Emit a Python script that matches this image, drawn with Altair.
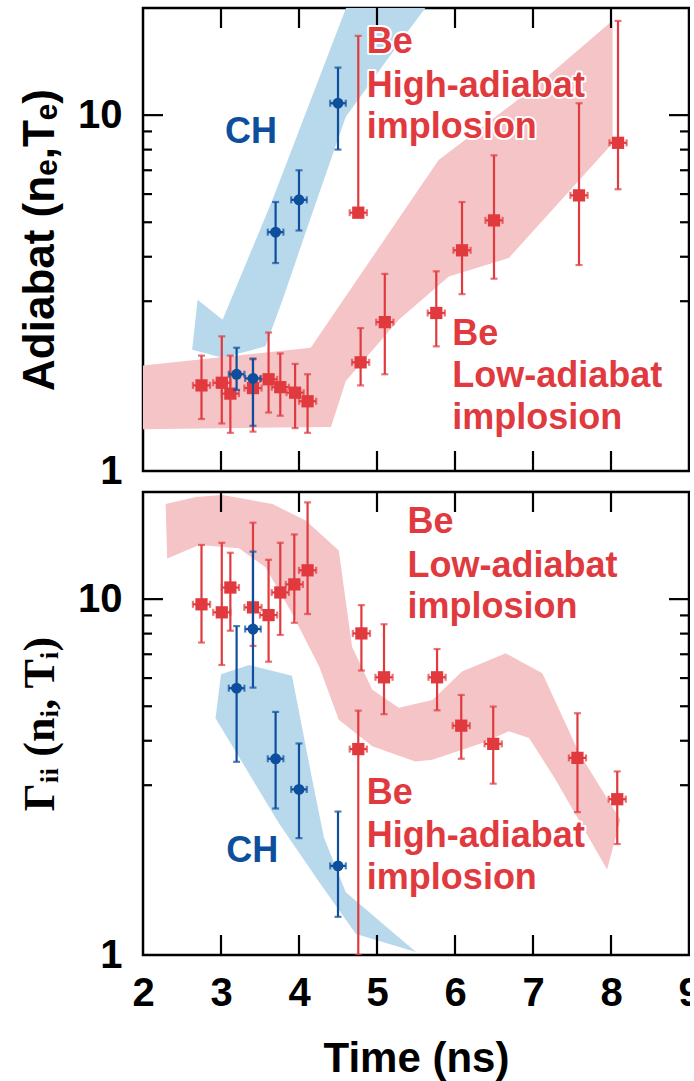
import altair as alt
import pandas as pd

RED = "#e03a3f"
BLUE = "#0d4f9c"
PINK = "#f5c4c6"
LIGHTBLUE = "#b8d8ec"
FONT = "Liberation Sans"

W, H = 546, 463

# ---------------- top panel: adiabat ----------------
top_red_t = [2.75, 3.01, 3.12, 3.41, 3.61, 3.76, 3.95, 4.11, 4.76, 4.79, 5.10, 5.76, 6.09, 6.50, 7.59, 8.09]
top_red_v = [1.74, 1.77, 1.65, 1.71, 1.81, 1.72, 1.66, 1.57, 5.32, 2.02, 2.62, 2.78, 4.17, 5.06, 5.95, 8.36]
top_red_lo = [1.40, 1.36, 1.28, 1.29, 1.46, 1.43, 1.32, 1.28, 5.17, 1.74, 1.87, 2.24, 3.14, 3.47, 3.79, 6.19]
top_red_hi = [2.11, 2.39, 2.11, 2.06, 2.45, 2.14, 2.00, 1.87, 16.7, 2.52, 3.58, 3.64, 5.70, 7.71, 10.8, 18.4]

top_blue_t = [3.20, 3.41, 3.70, 4.00, 4.50]
top_blue_v = [1.87, 1.82, 4.69, 5.78, 10.8]
top_blue_lo = [1.69, 1.34, 3.84, 4.74, 8.0]
top_blue_hi = [2.22, 2.07, 5.70, 7.00, 13.6]

top_blueband_t = [4.64, 3.66, 3.02, 2.70, 2.63, 3.02, 3.57, 3.79, 4.17, 4.60, 5.37, 5.62, 5.62]
top_blueband_v = [21.0, 5.78, 2.66, 3.03, 2.19, 2.08, 2.24, 3.03, 5.30, 9.89, 16.9, 20.0, 21.0]

top_pinkband_t = [1.90, 4.15, 5.79, 7.08, 8.02, 8.02, 6.69, 5.92, 5.28, 4.60, 4.41, 1.90]
top_pinkband_v = [1.97, 2.22, 7.48, 12.27, 18.46, 8.33, 3.97, 3.52, 2.66, 1.79, 1.33, 1.31]

# ---------------- bottom panel: coupling ----------------
bot_red_t = [2.75, 3.01, 3.12, 3.41, 3.61, 3.76, 3.94, 4.11, 4.76, 4.80, 5.09, 5.77, 6.08, 6.49, 7.57, 8.08]
bot_red_v = [9.67, 9.18, 10.78, 9.48, 9.02, 10.44, 11.0, 12.05, 3.79, 8.01, 6.03, 6.03, 4.41, 3.92, 3.58, 2.74]
bot_red_lo = [7.55, 6.53, 8.15, 7.39, 6.67, 7.93, 8.58, 9.08, 1.0, 6.30, 4.75, 4.87, 3.56, 3.03, 2.52, 2.05]
bot_red_hi = [14.2, 14.4, 13.5, 16.4, 12.9, 14.4, 15.2, 18.7, 4.86, 9.62, 8.50, 7.24, 5.38, 4.99, 4.78, 3.28]

bot_blue_t = [3.20, 3.41, 3.70, 4.00, 4.50]
bot_blue_v = [5.62, 8.24, 3.56, 2.92, 1.78]
bot_blue_lo = [3.49, 5.64, 2.58, 2.13, 1.28]
bot_blue_hi = [8.40, 13.6, 4.82, 3.93, 2.53]

bot_blueband_t = [2.93, 3.00, 3.36, 3.91, 4.17, 4.32, 4.60, 5.50, 4.73, 4.26, 3.74]
bot_blueband_v = [4.63, 6.15, 6.53, 6.09, 3.11, 2.14, 1.50, 1.02, 1.145, 1.60, 2.35]

bot_pinkband_t = [2.29, 2.68, 3.02, 3.66, 4.09, 4.51, 4.68, 4.94, 5.28, 5.71, 6.09, 6.65, 7.12, 7.59, 8.12,
                  7.95, 7.29, 6.95, 6.69, 6.35, 5.71, 5.49, 4.94, 4.51, 4.26, 3.91, 3.57, 3.23, 2.72, 2.31]
bot_pinkband_v = [18.5, 19.35, 19.6, 18.5, 16.6, 13.7, 7.35, 5.56, 4.95, 5.21, 6.26, 7.04, 6.19, 3.70, 2.40,
                  1.74, 3.11, 4.07, 4.25, 3.94, 3.54, 3.50, 3.86, 4.58, 6.46, 9.12, 12.3, 13.9, 14.2, 13.0]

# ---------------- annotations ----------------
top_text = ["CH", "Be", "High-adiabat", "implosion", "Be", "Low-adiabat", "implosion"]
top_text_t = [3.385, 4.87, 4.87, 4.87, 5.965, 5.965, 5.965]
top_text_v = [8.35, 14.92, 11.23, 8.62, 2.265, 1.717, 1.309]
top_text_c = [BLUE, RED, RED, RED, RED, RED, RED]
top_text_a = ["center", "left", "left", "left", "left", "left", "left"]

bot_text = ["CH", "Be", "Low-adiabat", "implosion", "Be", "High-adiabat", "implosion"]
bot_text_t = [3.40, 5.39, 5.39, 5.39, 4.87, 4.87, 4.87]
bot_text_v = [1.83, 15.3, 11.52, 8.85, 2.65, 2.007, 1.53]
bot_text_c = [BLUE, RED, RED, RED, RED, RED, RED]
bot_text_a = ["center", "left", "left", "left", "left", "left", "left"]

x_tick_vals = [3, 4, 5, 6, 7, 8]
x_label_vals = [2, 3, 4, 5, 6, 7, 8, 9]
y_label_vals = [1, 10]
y_major = [10]
y_minor = [3, 4, 5, 6, 7, 8, 9]

xs = alt.Scale(domain=[2, 9], nice=False, zero=False)
ys = alt.Scale(type="log", domain=[1, 20], nice=False)


def make_yaxis(title, tfont, tsize):
    return alt.Axis(values=y_label_vals, format="d", title=title, ticks=False, tickSize=0, domain=False,
                    grid=False, labelFont=FONT, labelFontSize=40, labelFontWeight="bold", labelColor="black",
                    labelPadding=21, labelOverlap=False,
                    titleFont=tfont, titleFontSize=tsize, titleFontWeight="bold", titleColor="black",
                    titleX=-90, titleY=H / 2, titleBaseline="alphabetic", titleAlign="center", titleAngle=270)


xaxis_bottom = alt.Axis(values=x_label_vals, format="d", title="Time (ns)", ticks=False, tickSize=0,
                        domain=False, grid=False, labelFont=FONT, labelFontSize=40, labelFontWeight="bold",
                        labelColor="black", labelPadding=18, labelFlush=False, labelOverlap=False,
                        titleFont=FONT, titleFontSize=42, titleFontWeight="bold", titleColor="black",
                        titleY=116, titleBaseline="alphabetic")


def build_panel(xax, yax, blueband, pinkband, red, blue, texts):
    def X(f):
        return alt.X(f, scale=xs, axis=xax)

    def Y(f):
        return alt.Y(f, scale=ys, axis=yax)

    layers = []

    def band(ts, vs, color):
        df = pd.DataFrame({"t": ts, "v": vs, "i": list(range(len(ts)))})
        return alt.Chart(df).mark_line(fill=color, stroke=color, strokeWidth=0, clip=True).encode(
            x=X("t:Q"), y=Y("v:Q"), order=alt.Order("i:Q"))

    layers.append(band(*blueband, LIGHTBLUE))
    layers.append(band(*pinkband, PINK))

    # inward frame ticks
    xdf = pd.DataFrame({"t": x_tick_vals})
    ymaj = pd.DataFrame({"v": y_major})
    ymin = pd.DataFrame({"v": y_minor})
    rk = dict(color="black", strokeWidth=2.2)
    layers += [
        alt.Chart(xdf).mark_rule(**rk).encode(x=X("t:Q"), y=alt.value(0), y2=alt.value(20)),
        alt.Chart(xdf).mark_rule(**rk).encode(x=X("t:Q"), y=alt.value(H - 20), y2=alt.value(H)),
        alt.Chart(ymaj).mark_rule(**rk).encode(y=Y("v:Q"), x=alt.value(0), x2=alt.value(20)),
        alt.Chart(ymaj).mark_rule(**rk).encode(y=Y("v:Q"), x=alt.value(W - 20), x2=alt.value(W)),
        alt.Chart(ymin).mark_rule(**rk).encode(y=Y("v:Q"), x=alt.value(0), x2=alt.value(9)),
        alt.Chart(ymin).mark_rule(**rk).encode(y=Y("v:Q"), x=alt.value(W - 9), x2=alt.value(W)),
    ]

    def series(ts, vs, lo, hi, color, shape, dx, size):
        df = pd.DataFrame({"t": ts, "v": vs, "lo": lo, "hi": hi})
        df["tl"] = df["t"] - dx
        df["tr"] = df["t"] + dx
        base = alt.Chart(df)
        tk = dict(color=color, size=7, thickness=2.2)
        out = [
            base.mark_rule(color=color, strokeWidth=2.2, clip=True).encode(x=X("t:Q"), y=Y("lo:Q"), y2="hi:Q"),
            base.mark_rule(color=color, strokeWidth=2.2).encode(x=X("tl:Q"), x2="tr:Q", y=Y("v:Q")),
            base.mark_tick(orient="horizontal", clip=True, **tk).encode(x=X("t:Q"), y=Y("lo:Q")),
            base.mark_tick(orient="horizontal", **tk).encode(x=X("t:Q"), y=Y("hi:Q")),
            base.mark_tick(orient="vertical", **tk).encode(x=X("tl:Q"), y=Y("v:Q")),
            base.mark_tick(orient="vertical", **tk).encode(x=X("tr:Q"), y=Y("v:Q")),
        ]
        if shape == "square":
            out.append(base.mark_square(color=color, size=size, opacity=1).encode(x=X("t:Q"), y=Y("v:Q")))
        else:
            out.append(base.mark_circle(color=color, size=size, opacity=1).encode(x=X("t:Q"), y=Y("v:Q")))
        return out

    layers += series(*red, RED, "square", 0.11, 150)
    layers += series(*blue, BLUE, "circle", 0.10, 120)

    txt, ts, vs, cs, aligns = texts
    for align in ["left", "center"]:
        rows = [(a, b, c, d) for a, b, c, d, e in zip(txt, ts, vs, cs, aligns) if e == align]
        if not rows:
            continue
        df = pd.DataFrame(rows, columns=["txt", "t", "v", "c"])
        enc = dict(x=X("t:Q"), y=Y("v:Q"), text="txt:N")
        layers.append(alt.Chart(df).mark_text(
            align=align, baseline="alphabetic", font=FONT, fontSize=36, fontWeight="bold",
            fill="white", stroke="white", strokeWidth=4, strokeJoin="round").encode(**enc))
        layers.append(alt.Chart(df).mark_text(
            align=align, baseline="alphabetic", font=FONT, fontSize=36, fontWeight="bold").encode(
            color=alt.Color("c:N", scale=None), **enc))

    return alt.layer(*layers).properties(width=W, height=H)


top = build_panel(
    None, make_yaxis("Adiabat (nₑ,Tₑ)", FONT, 44),
    (top_blueband_t, top_blueband_v), (top_pinkband_t, top_pinkband_v),
    (top_red_t, top_red_v, top_red_lo, top_red_hi),
    (top_blue_t, top_blue_v, top_blue_lo, top_blue_hi),
    (top_text, top_text_t, top_text_v, top_text_c, top_text_a),
)

bottom = build_panel(
    xaxis_bottom, make_yaxis("Γᵢᵢ (nᵢ, Tᵢ)", "Liberation Serif", 44),
    (bot_blueband_t, bot_blueband_v), (bot_pinkband_t, bot_pinkband_v),
    (bot_red_t, bot_red_v, bot_red_lo, bot_red_hi),
    (bot_blue_t, bot_blue_v, bot_blue_lo, bot_blue_hi),
    (bot_text, bot_text_t, bot_text_v, bot_text_c, bot_text_a),
)

chart = alt.vconcat(top, bottom, spacing=21, bounds="flush").properties(
    padding={"left": 16, "top": 5, "right": -12, "bottom": 0},
    background="white",
).configure_view(stroke="black", strokeWidth=2.5)

chart.save("out.html", embed_options={"renderer": "svg", "actions": False})
